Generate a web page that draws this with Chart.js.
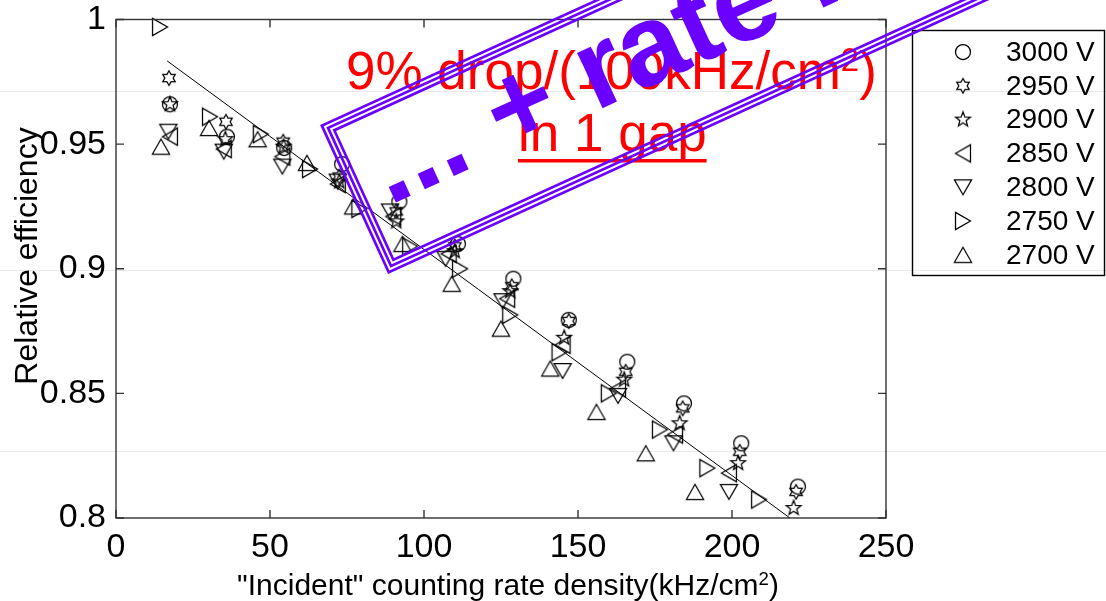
<!DOCTYPE html>
<html>
<head>
<meta charset="utf-8">
<script src="https://cdn.jsdelivr.net/npm/chart.js@4.4.1/dist/chart.umd.min.js"></script>
<style>
  html, body { margin: 0; padding: 0; background: #fff; }
  #wrap { width: 1106px; height: 601px; }
</style>
</head>
<body>
<div id="wrap"><canvas id="rate-chart" width="1106" height="601"></canvas></div>
<script>
const FONT = '"Liberation Sans", Arial, sans-serif';

const seriesLabels = ['3000 V', '2950 V', '2900 V', '2850 V', '2800 V', '2750 V', '2700 V'];
const markerKinds = ['circle', 'hexagram', 'pentagram', 'left', 'down', 'right', 'up'];

// counting rate density (kHz/cm2) and relative efficiency per HV setting
const rate3000 = [17.5, 36, 54.6, 73.4, 92, 111, 129, 147, 166, 184.4, 203, 221.4];
const eff3000 = [0.966, 0.953, 0.9485, 0.942, 0.927, 0.910, 0.896, 0.8795, 0.8627, 0.846, 0.830, 0.8126];

const rate2950 = [17.2, 35.7, 54.3, 72.5, 91, 110, 128.5, 147, 165.5, 184, 202.5, 220.8];
const eff2950 = [0.9765, 0.959, 0.951, 0.937, 0.923, 0.909, 0.893, 0.879, 0.8587, 0.844, 0.8266, 0.8105];

const rate2900 = [17.5, 35.5, 54.4, 72.5, 91, 110, 128, 145.5, 165, 183, 202, 220];
const eff2900 = [0.966, 0.952, 0.949, 0.935, 0.919, 0.907, 0.891, 0.8723, 0.8555, 0.838, 0.822, 0.804];

const rate2850 = [17.5, 35, 54, 72, 90, 108, 127, 145, 163, 181.5, 199];
const eff2850 = [0.953, 0.948, 0.945, 0.934, 0.921, 0.906, 0.888, 0.8695, 0.852, 0.8335, 0.818];

const rate2800 = [17, 35, 54, 72, 89, 107, 125.5, 145, 163, 181, 199];
const eff2800 = [0.955, 0.947, 0.941, 0.935, 0.923, 0.904, 0.887, 0.859, 0.849, 0.830, 0.8105];

const rate2750 = [14.3, 30.5, 47, 63, 79, 95.5, 111.7, 128, 144, 160, 176.6, 192, 208.8];
const eff2750 = [0.997, 0.961, 0.954, 0.94, 0.924, 0.909, 0.900, 0.8815, 0.8665, 0.850, 0.8355, 0.820, 0.8074];

const rate2700 = [14.6, 30.2, 46, 62, 77, 93, 109, 125, 141, 156, 172, 188];
const eff2700 = [0.949, 0.9565, 0.952, 0.9425, 0.925, 0.91, 0.894, 0.876, 0.860, 0.8426, 0.826, 0.8105];

// linear fit drawn across the data
const fitRate = [16.6, 218.8];
const fitEff = [0.9834, 0.8];

const xTicks = [0, 50, 100, 150, 200, 250];
const yTicks = [0.8, 0.85, 0.9, 0.95, 1];

const allRates = [rate3000, rate2950, rate2900, rate2850, rate2800, rate2750, rate2700];
const allEffs = [eff3000, eff2950, eff2900, eff2850, eff2800, eff2750, eff2700];

// hollow MATLAB-like markers drawn on small canvases
function makeMarker(kind) {
  const s = 24;
  const c = document.createElement('canvas');
  c.width = s; c.height = s;
  const g = c.getContext('2d');
  g.strokeStyle = '#000';
  g.lineWidth = 1.25;
  g.translate(s / 2, s / 2);
  g.beginPath();
  if (kind === 'circle') {
    g.arc(0, 0, 7.5, 0, Math.PI * 2);
  } else if (kind === 'hexagram' || kind === 'pentagram') {
    const n = kind === 'hexagram' ? 6 : 5;
    const R = kind === 'hexagram' ? 7.2 : 7.8;
    const r = kind === 'hexagram' ? R / Math.sqrt(3) : R * 0.42;
    for (let i = 0; i < n * 2; i++) {
      const a = -Math.PI / 2 + i * Math.PI / n;
      const rr = i % 2 === 0 ? R : r;
      const px = Math.cos(a) * rr, py = Math.sin(a) * rr;
      if (i === 0) g.moveTo(px, py); else g.lineTo(px, py);
    }
    g.closePath();
  } else {
    const rot = { up: 0, right: Math.PI / 2, down: Math.PI, left: -Math.PI / 2 }[kind];
    g.rotate(rot);
    g.moveTo(0, -7.5);
    g.lineTo(8.6, 7.5);
    g.lineTo(-8.6, 7.5);
    g.closePath();
  }
  g.stroke();
  return c;
}

const markerImages = markerKinds.map(makeMarker);

const datasets = seriesLabels.map((label, i) => ({
  label: label,
  data: allRates[i].map((r, j) => ({ x: r, y: allEffs[i][j] })),
  pointStyle: markerImages[i],
  showLine: false,
  clip: false
}));

datasets.push({
  label: 'fit',
  data: fitRate.map((r, j) => ({ x: r, y: fitEff[j] })),
  showLine: true,
  borderColor: '#000',
  borderWidth: 1,
  pointRadius: 0,
  clip: false
});

function drawRich(ctx, parts, x, y, size, align) {
  const supSize = size * 0.62;
  let total = 0;
  parts.forEach(p => {
    ctx.font = (p[1] ? supSize : size) + 'px ' + FONT;
    total += ctx.measureText(p[0]).width;
  });
  let cx = align === 'center' ? x - total / 2 : x;
  parts.forEach(p => {
    ctx.font = (p[1] ? supSize : size) + 'px ' + FONT;
    ctx.fillText(p[0], cx, p[1] ? y - size * 0.34 : y);
    cx += ctx.measureText(p[0]).width;
  });
  return total;
}

const backgroundPlugin = {
  id: 'background',
  beforeDraw(chart) {
    const ctx = chart.ctx;
    ctx.save();
    ctx.fillStyle = '#fff';
    ctx.fillRect(0, 0, chart.width, chart.height);
    // faint slide guide lines visible in the original
    ctx.strokeStyle = 'rgba(0,0,0,0.08)';
    ctx.lineWidth = 1;
    [91, 270, 451].forEach(y => {
      ctx.beginPath();
      ctx.moveTo(0, y + 0.5);
      ctx.lineTo(chart.width, y + 0.5);
      ctx.stroke();
    });
    ctx.restore();
  }
};

const boxAxesPlugin = {
  id: 'boxAxes',
  afterDraw(chart) {
    const ctx = chart.ctx;
    const a = chart.chartArea;
    const xs = chart.scales.x, ys = chart.scales.y;
    ctx.save();
    ctx.strokeStyle = '#333';
    ctx.lineWidth = 1.4;
    ctx.strokeRect(a.left, a.top, a.right - a.left, a.bottom - a.top);
    ctx.beginPath();
    const tl = 8;
    xTicks.forEach(v => {
      const px = xs.getPixelForValue(v);
      ctx.moveTo(px, a.bottom); ctx.lineTo(px, a.bottom - tl);
      ctx.moveTo(px, a.top); ctx.lineTo(px, a.top + tl);
    });
    yTicks.forEach(v => {
      const py = ys.getPixelForValue(v);
      ctx.moveTo(a.left, py); ctx.lineTo(a.left + tl, py);
      ctx.moveTo(a.right, py); ctx.lineTo(a.right - tl, py);
    });
    ctx.stroke();

    // axis titles
    ctx.fillStyle = '#000';
    ctx.textBaseline = 'alphabetic';
    drawRich(ctx, [['"Incident" counting rate density(kHz/cm', false], ['2', true], [')', false]], 508, 595, 30, 'center');
    ctx.save();
    ctx.translate(37, 256);
    ctx.rotate(-Math.PI / 2);
    ctx.font = '32px ' + FONT;
    ctx.textAlign = 'center';
    ctx.fillText('Relative efficiency', 0, 0);
    ctx.restore();

    // legend box
    ctx.lineWidth = 1.4;
    ctx.strokeStyle = '#000';
    ctx.strokeRect(912.5, 30.5, 192, 245);
    ctx.font = '28px ' + FONT;
    ctx.textBaseline = 'middle';
    ctx.textAlign = 'left';
    seriesLabels.forEach((label, i) => {
      const y = 52 + i * 33.8;
      const img = markerImages[i];
      ctx.drawImage(img, 963 - img.width / 2, y - img.height / 2);
      ctx.fillText(label, 1006, y + 1);
    });

    // red annotation
    ctx.fillStyle = '#ff0000';
    ctx.textBaseline = 'alphabetic';
    drawRich(ctx, [['9% drop/(100kHz/cm', false], ['2', true], [')', false]], 346, 89, 53, 'left');
    ctx.font = '53px ' + FONT;
    const w = ctx.measureText('in 1 gap').width;
    ctx.fillText('in 1 gap', 518, 151);
    ctx.fillRect(518, 159, w, 3.5);

    // purple rotated overlay
    ctx.save();
    ctx.translate(354, 199.5);
    ctx.rotate(-24.5 * Math.PI / 180);
    ctx.strokeStyle = '#6a00ff';
    ctx.lineWidth = 2.7;
    [1.4, 6.1, 10.8].forEach(d => {
      ctx.strokeRect(d, -82 + d, 1400, 164 - 2 * d);
    });
    ctx.fillStyle = '#6a00ff';
    ctx.font = 'bold 115px ' + FONT;
    ctx.fillText('... + rate ...', 29, 20);
    ctx.restore();

    ctx.restore();
  }
};

const tickFont = { family: FONT, size: 34 };

new Chart(document.getElementById('rate-chart').getContext('2d'), {
  type: 'scatter',
  data: { datasets: datasets },
  options: {
    responsive: false,
    animation: false,
    events: [],
    layout: { padding: { left: 0, right: 220, top: 19.5, bottom: 0 } },
    plugins: { legend: { display: false }, tooltip: { enabled: false } },
    scales: {
      x: {
        type: 'linear', min: 0, max: 250,
        afterBuildTicks: s => { s.ticks = xTicks.map(v => ({ value: v })); },
        ticks: { font: tickFont, color: '#000', padding: 9, maxRotation: 0 },
        grid: { display: false, drawTicks: false },
        border: { display: false },
        afterFit: s => { s.height = 83; s.paddingLeft = 0; s.paddingRight = 0; }
      },
      y: {
        type: 'linear', min: 0.8, max: 1,
        afterBuildTicks: s => { s.ticks = yTicks.map(v => ({ value: v })); },
        ticks: {
          font: tickFont, color: '#000', padding: 10,
          callback: v => String(parseFloat(v.toFixed(2)))
        },
        grid: { display: false, drawTicks: false },
        border: { display: false },
        afterFit: s => { s.width = 116; s.paddingTop = 0; s.paddingBottom = 0; }
      }
    }
  },
  plugins: [backgroundPlugin, boxAxesPlugin]
});
</script>
</body>
</html>
